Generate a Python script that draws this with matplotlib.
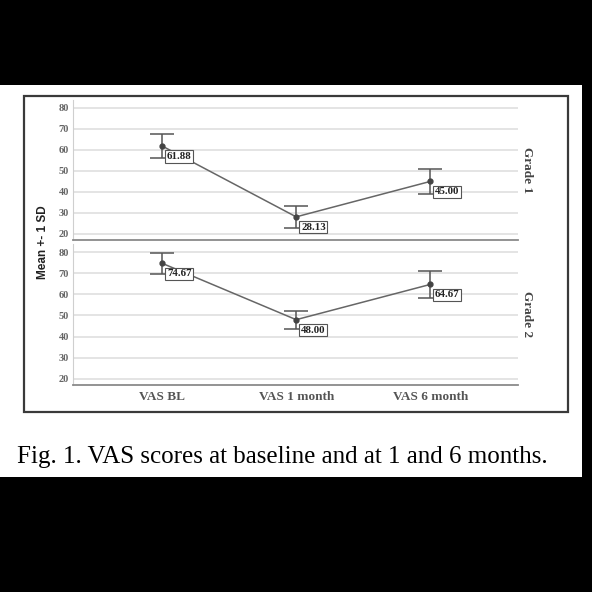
import matplotlib.pyplot as plt
from matplotlib.patches import Rectangle

# data
timepoints = ["VAS BL", "VAS 1 month", "VAS 6 month"]
grades = ["Grade 1", "Grade 2"]
means_g1 = [61.88, 28.13, 45.00]
sd_g1 = [5.6, 5.4, 6.1]
means_g2 = [74.67, 48.00, 64.67]
sd_g2 = [5.1, 4.2, 6.2]
yticks = [20, 30, 40, 50, 60, 70, 80]

W = H = 592


def fx(x):
    return x / W


def fy(y):
    return 1 - y / H


fig = plt.figure(figsize=(5.92, 5.92), dpi=100, facecolor="black")

# white page and the chart frame, kept behind the axes
fig.patches.append(Rectangle((fx(0), fy(477)), fx(582), (477 - 85) / H,
                             transform=fig.transFigure, facecolor="white",
                             edgecolor="none", zorder=-10))
fig.patches.append(Rectangle((fx(24), fy(412)), (568 - 24) / W, (412 - 96) / H,
                             transform=fig.transFigure, facecolor="none",
                             edgecolor="#3a3a3a", lw=1.6, zorder=-5))

serif = "Liberation Serif"
ax1 = fig.add_axes([fx(73), fy(240), (518 - 73) / W, (240 - 100) / H])
ax2 = fig.add_axes([fx(73), fy(385), (518 - 73) / W, (385 - 244) / H])

x = list(range(len(timepoints)))
for ax, means, sds, grade in [(ax1, means_g1, sd_g1, grades[0]),
                              (ax2, means_g2, sd_g2, grades[1])]:
    ax.set_facecolor("none")
    ax.set_xlim(-0.665, 2.655)
    ax.set_ylim(17.1, 83.8)
    ax.set_yticks(yticks)
    ax.set_yticklabels([str(v) for v in yticks], family=serif,
                       fontweight="bold", fontsize=7.5, color="#666666")
    ax.tick_params(axis="y", length=0, pad=3)
    ax.tick_params(axis="x", length=0)
    ax.grid(axis="y", color="#dcdcdc", lw=1.1)
    ax.set_axisbelow(True)
    for s in ["top", "right"]:
        ax.spines[s].set_visible(False)
    ax.spines["left"].set_color("#cfcfcf")
    ax.spines["bottom"].set_color("#8a8a8a")
    ax.spines["bottom"].set_linewidth(1.3)

    ax.errorbar(x, means, yerr=sds, fmt="none", ecolor="#555555",
                elinewidth=1.1, capsize=8.6, capthick=1.1, zorder=3)
    ax.plot(x, means, color="#666666", lw=1.1, zorder=4)
    ax.plot(x, means, "o", color="#444444", ms=3.5, zorder=5)
    for xi, m in zip(x, means):
        ax.annotate(f"{m:.2f}", (xi, m), xytext=(3.5, -7.5),
                    textcoords="offset points", ha="left", va="center",
                    family=serif, fontweight="bold", fontsize=7.8,
                    color="#222222", zorder=6,
                    bbox=dict(boxstyle="square,pad=0.15", fc="white",
                              ec="#555555", lw=0.8))
    ax.text(1.02, 0.5, grade, transform=ax.transAxes, rotation=-90,
            ha="center", va="center", family=serif, fontweight="bold",
            fontsize=9.5, color="#444444")

ax1.set_xticks(x)
ax1.set_xticklabels([])
ax2.set_xticks(x)
ax2.set_xticklabels(timepoints, family=serif, fontweight="bold",
                    fontsize=9.5, color="#555555")
ax2.tick_params(axis="x", pad=4)

fig.text(fx(43), fy(242), "Mean +- 1 SD", rotation=90, ha="center",
         va="center", family="Liberation Sans", fontweight="bold",
         fontsize=8.5, color="#222222")

fig.text(fx(282), fy(457), "Fig. 1. VAS scores at baseline and at 1 and 6 months.",
         ha="center", va="center", family=serif, fontsize=18, color="black")

fig.savefig("out.png", dpi=100, facecolor=fig.get_facecolor())
